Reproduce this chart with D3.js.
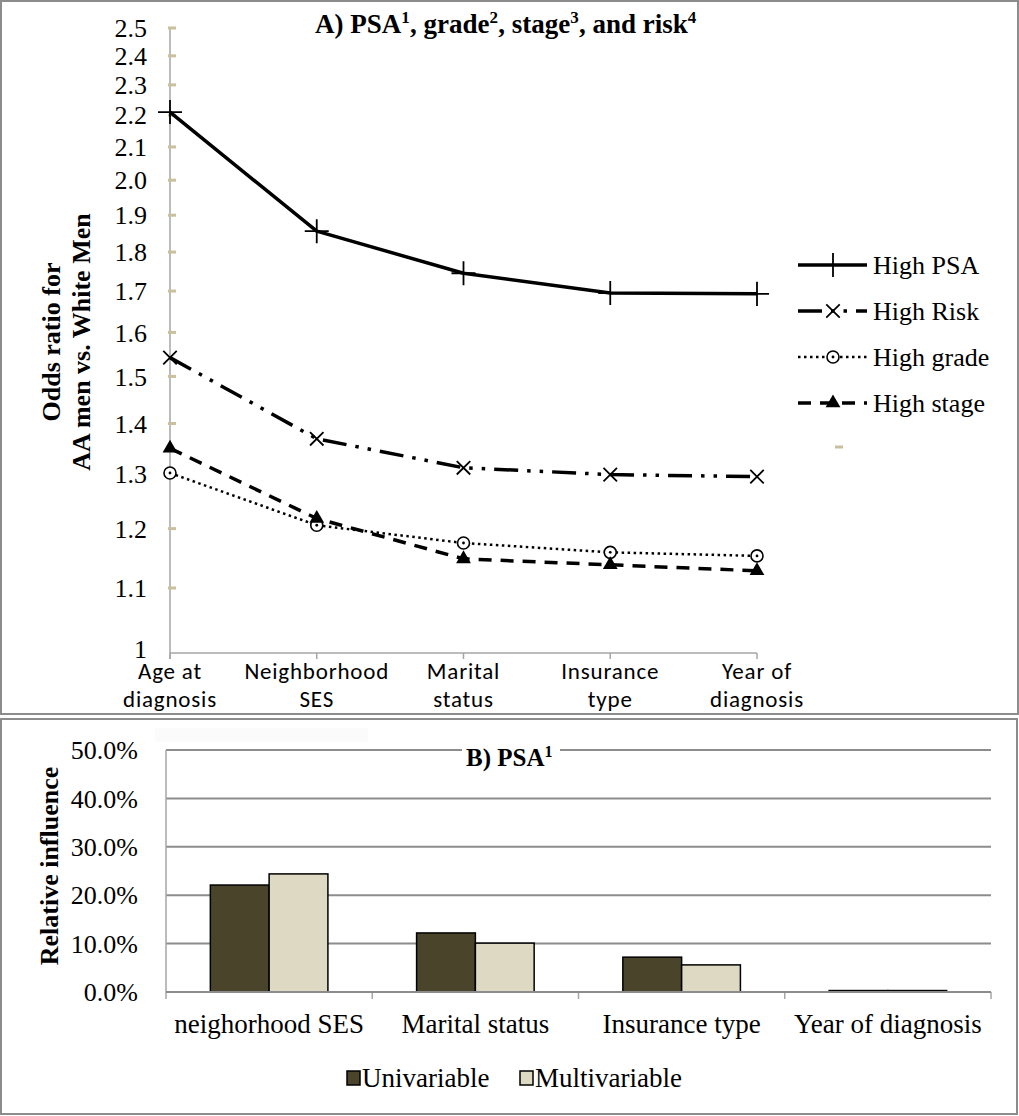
<!DOCTYPE html>
<html lang="en">
<head>
<meta charset="UTF-8">
<title>Odds ratios and relative influence</title>
<script src="https://d3js.org/d3.v7.min.js"></script>
<style>
  body { margin: 0; background: #fff; }
  svg { display: block; }
  .serif { font-family: "Liberation Serif", "Times New Roman", serif; }
  .sans { font-family: "Carlito", "Lato", sans-serif; }
</style>
</head>
<body>
<svg id="chart" width="1019" height="1116"></svg>
<script>
// ---- panel A data ----
const categoriesA = [["Age at", "diagnosis"], ["Neighborhood", "SES"], ["Marital", "status"], ["Insurance", "type"], ["Year of", "diagnosis"]];
const seriesNames = ["High PSA", "High Risk", "High grade", "High stage"];
const highPSA   = [2.21, 1.856, 1.745, 1.695, 1.693];
const highRisk  = [1.542, 1.369, 1.312, 1.299, 1.295];
const highGrade = [1.302, 1.206, 1.175, 1.159, 1.153];
const highStage = [1.35, 1.218, 1.148, 1.138, 1.128];
const oddsTicks = [1, 1.1, 1.2, 1.3, 1.4, 1.5, 1.6, 1.7, 1.8, 1.9, 2.0, 2.1, 2.2, 2.3, 2.4, 2.5];

// ---- panel B data ----
const categoriesB = ["neighorhood SES", "Marital status", "Insurance type", "Year of diagnosis"];
const barSeries = ["Univariable", "Multivariable"];
const univariable   = [0.221, 0.122, 0.072, 0.003];
const multivariable = [0.244, 0.101, 0.056, 0.003];
const pctTicks = [0, 0.1, 0.2, 0.3, 0.4, 0.5];

const svg = d3.select("#chart");
const gray = "#8c8c8c";
const tan = "#c9c09f";

// panel frames
svg.append("rect").attr("x", 1).attr("y", 1).attr("width", 1017).attr("height", 713)
  .attr("fill", "#fff").attr("stroke", gray).attr("stroke-width", 2);
svg.append("rect").attr("x", 1).attr("y", 719).attr("width", 1016).attr("height", 395)
  .attr("fill", "#fff").attr("stroke", gray).attr("stroke-width", 2);

// =================== Panel A ===================
const xA = d3.scalePoint().domain(d3.range(categoriesA.length)).range([170, 757]);
const yA = d3.scaleLog().domain([1, 2.5]).range([653, 28]);

const gA = svg.append("g");

// y axis line + tan ticks
gA.append("line").attr("x1", 170).attr("x2", 170).attr("y1", yA(2.5)).attr("y2", yA(1) + 6)
  .attr("stroke", "#a6a6a6").attr("stroke-width", 1.5);
gA.selectAll(".ytick").data(oddsTicks.slice(1)).enter().append("line")
  .attr("x1", 168).attr("x2", 176).attr("y1", d => yA(d)).attr("y2", d => yA(d))
  .attr("stroke", tan).attr("stroke-width", 3);
gA.selectAll(".ylab").data(oddsTicks).enter().append("text")
  .attr("class", "serif").attr("x", 147).attr("y", d => yA(d)).attr("dy", d => d === 1 ? "0.2em" : "0.35em")
  .attr("text-anchor", "end").attr("font-size", 26)
  .text(d => d === 1 ? "1" : d.toFixed(1));

// x axis
gA.append("line").attr("x1", 170).attr("x2", 757).attr("y1", yA(1)).attr("y2", yA(1))
  .attr("stroke", "#a6a6a6").attr("stroke-width", 1.5);
gA.selectAll(".xtick").data(d3.range(categoriesA.length)).enter().append("line")
  .attr("x1", d => xA(d)).attr("x2", d => xA(d)).attr("y1", yA(1)).attr("y2", yA(1) + 6)
  .attr("stroke", "#a6a6a6").attr("stroke-width", 1.5);
const xl = gA.selectAll(".xlab").data(categoriesA).enter().append("text")
  .attr("class", "sans").attr("font-size", 23).attr("letter-spacing", 0.8).attr("text-anchor", "middle");
xl.append("tspan").attr("x", (d, i) => xA(i)).attr("y", 679).text(d => d[0]);
xl.append("tspan").attr("x", (d, i) => xA(i)).attr("y", 707).text(d => d[1]);

// y title
const yt = gA.append("text").attr("class", "serif").attr("font-size", 26).attr("font-weight", "bold")
  .attr("text-anchor", "middle").attr("transform", "translate(0,342) rotate(-90)");
yt.append("tspan").attr("x", 0).attr("y", 60).text("Odds ratio for");
yt.append("tspan").attr("x", 0).attr("y", 90).text("AA men vs. White Men");

// title with superscripts
const tA = gA.append("text").attr("class", "serif").attr("font-size", 27).attr("font-weight", "bold")
  .attr("x", 315).attr("y", 33);
[["A) PSA", "1"], [", grade", "2"], [", stage", "3"], [", and risk", "4"]].forEach(p => {
  tA.append("tspan").text(p[0]);
  tA.append("tspan").attr("font-size", 17).attr("dy", -10).text(p[1]);
  tA.append("tspan").attr("font-size", 1).attr("dy", 10).text(" ");
});

// series styling
const series = [
  { name: seriesNames[0], values: highPSA,   dash: null,               width: 3.5, marker: "plus" },
  { name: seriesNames[1], values: highRisk,  dash: "24,9,3.5,9,3.5,9", width: 3.5, marker: "times" },
  { name: seriesNames[2], values: highGrade, dash: "2.5,3.5",          width: 2.5, marker: "circle" },
  { name: seriesNames[3], values: highStage, dash: "13,9",             width: 3.5, marker: "triangle" }
];

function drawMarker(g, type, x, y) {
  if (type === "plus") {
    g.append("path").attr("d", d3.symbol(d3.symbolPlus, 190)()).attr("transform", `translate(${x},${y})`)
      .attr("fill", "none").attr("stroke", "#000").attr("stroke-width", 1.8);
  } else if (type === "times") {
    g.append("path").attr("d", d3.symbol(d3.symbolTimes, 120)()).attr("transform", `translate(${x},${y})`)
      .attr("fill", "none").attr("stroke", "#000").attr("stroke-width", 1.8);
  } else if (type === "circle") {
    g.append("circle").attr("cx", x).attr("cy", y).attr("r", 6)
      .attr("fill", "#fff").attr("stroke", "#000").attr("stroke-width", 1.6);
    g.append("circle").attr("cx", x).attr("cy", y).attr("r", 1.4).attr("fill", "#000");
  } else {
    g.append("path").attr("d", d3.symbol(d3.symbolTriangle, 95)()).attr("transform", `translate(${x},${y})`)
      .attr("fill", "#000");
  }
}

const line = d3.line().x((d, i) => xA(i)).y(d => yA(d));
series.forEach(s => {
  gA.append("path").datum(s.values).attr("d", line)
    .attr("fill", "none").attr("stroke", "#000").attr("stroke-width", s.width)
    .attr("stroke-dasharray", s.dash).attr("stroke-linejoin", "round");
});
series.forEach(s => {
  s.values.forEach((v, i) => drawMarker(gA, s.marker, xA(i), yA(v)));
});

// legend A
const legA = gA.append("g");
series.forEach((s, i) => {
  const y = 265 + i * 46;
  legA.append("line").attr("x1", 798).attr("x2", 867).attr("y1", y).attr("y2", y)
    .attr("stroke", "#000").attr("stroke-width", s.width).attr("stroke-dasharray", s.dash);
  drawMarker(legA, s.marker, 833, y);
  legA.append("text").attr("class", "serif").attr("font-size", 26)
    .attr("x", 873).attr("y", y).attr("dy", "0.33em").text(s.name);
});
legA.append("line").attr("x1", 835).attr("x2", 843).attr("y1", 447).attr("y2", 447)
  .attr("stroke", tan).attr("stroke-width", 3);

// =================== Panel B ===================
const xB = d3.scaleBand().domain(categoriesB).range([166, 991]).paddingInner(0.43).paddingOuter(0.215);
const xB2 = d3.scaleBand().domain(barSeries).range([0, xB.bandwidth()]);
const yB = d3.scaleLinear().domain([0, 0.5]).range([992, 750]);
const barColor = d3.scaleOrdinal().domain(barSeries).range(["#4a452a", "#ddd9c3"]);

const gB = svg.append("g");
gB.append("rect").attr("x", 155).attr("y", 728).attr("width", 213).attr("height", 14).attr("fill", "#fbfbfb");

gB.selectAll(".grid").data(pctTicks.slice(1)).enter().append("line")
  .attr("x1", 166).attr("x2", 991).attr("y1", d => yB(d)).attr("y2", d => yB(d))
  .attr("stroke", gray).attr("stroke-width", 2);
gB.append("line").attr("x1", 166).attr("x2", 166).attr("y1", yB(0.5)).attr("y2", yB(0))
  .attr("stroke", "#a6a6a6").attr("stroke-width", 1.5);
gB.selectAll(".ylabB").data(pctTicks).enter().append("text")
  .attr("class", "serif").attr("font-size", 26).attr("text-anchor", "end")
  .attr("x", 138).attr("y", d => yB(d)).attr("dy", "0.35em")
  .text(d => d3.format(".1%")(d));

const bounds = categoriesB.map(c => xB(c) - xB.step() * xB.paddingInner() / 2);
bounds[0] = 166;
bounds.push(991);
gB.selectAll(".xtickB").data(bounds).enter().append("line")
  .attr("x1", d => d).attr("x2", d => d).attr("y1", yB(0)).attr("y2", yB(0) + 7)
  .attr("stroke", "#a6a6a6").attr("stroke-width", 1.5);

const groups = gB.selectAll(".grp").data(categoriesB).enter().append("g")
  .attr("transform", d => `translate(${xB(d)},0)`);
groups.selectAll("rect").data((d, i) => [
  { key: barSeries[0], v: univariable[i] },
  { key: barSeries[1], v: multivariable[i] }
]).enter().append("rect")
  .attr("x", d => xB2(d.key)).attr("width", xB2.bandwidth())
  .attr("y", d => yB(d.v)).attr("height", d => yB(0) - yB(d.v))
  .attr("fill", d => barColor(d.key)).attr("stroke", "#000").attr("stroke-width", 1.5);

gB.append("line").attr("x1", 166).attr("x2", 991).attr("y1", yB(0)).attr("y2", yB(0))
  .attr("stroke", gray).attr("stroke-width", 2);

gB.selectAll(".xlabB").data(categoriesB).enter().append("text")
  .attr("class", "serif").attr("font-size", 27).attr("text-anchor", "middle")
  .attr("x", d => xB(d) + xB.bandwidth() / 2).attr("y", 1033).text(d => d);

// title B
gB.append("rect").attr("x", 462).attr("y", 743).attr("width", 98).attr("height", 28).attr("fill", "#fff");
const tB = gB.append("text").attr("class", "serif").attr("font-size", 25).attr("font-weight", "bold")
  .attr("x", 466).attr("y", 766);
tB.append("tspan").text("B) PSA");
tB.append("tspan").attr("font-size", 16).attr("dy", -9).text("1");

// y title B
gB.append("text").attr("class", "serif").attr("font-size", 26).attr("font-weight", "bold")
  .attr("text-anchor", "middle").attr("transform", "translate(58,866) rotate(-90)")
  .text("Relative influence");

// legend B
const legB = [{ key: barSeries[0], x: 347 }, { key: barSeries[1], x: 520 }];
legB.forEach(l => {
  gB.append("rect").attr("x", l.x).attr("y", 1071).attr("width", 13).attr("height", 14)
    .attr("fill", barColor(l.key)).attr("stroke", "#000").attr("stroke-width", 1.5);
  gB.append("text").attr("class", "serif").attr("font-size", 27)
    .attr("x", l.x + 15).attr("y", 1078).attr("dy", "0.35em").text(l.key);
});
</script>
</body>
</html>
